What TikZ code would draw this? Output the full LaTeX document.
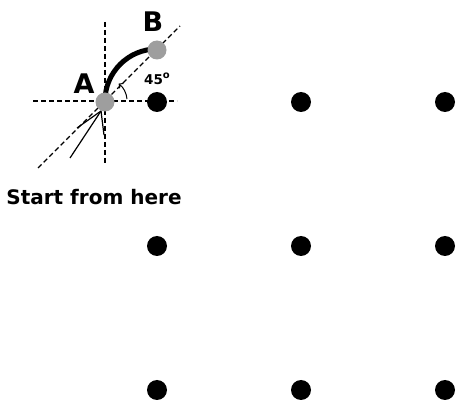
\documentclass[tikz,border=0pt]{standalone}
\usepackage{fontspec}
\setmainfont{DejaVu Sans}
\usetikzlibrary{arrows.meta}
\begin{document}
\begin{tikzpicture}[x=1pt,y=-1pt,
  dot/.style={circle,fill=black,inner sep=0pt,minimum size=20pt},
  graydot/.style={circle,fill=black!38,inner sep=0pt,minimum size=19pt},
  guide/.style={line width=1.2pt,dash pattern=on 5pt off 3pt},
  lbl/.style={font=\bfseries}]
\useasboundingbox (0,0) rectangle (459,412);
% grid of dots
\node[dot] (d11) at (157,102) {};
\node[dot] (d12) at (301,102) {};
\node[dot] (d13) at (445,102) {};
\node[dot] (d21) at (157,246) {};
\node[dot] (d22) at (301,246) {};
\node[dot] (d23) at (445,246) {};
\node[dot] (d31) at (157,390) {};
\node[dot] (d32) at (301,390) {};
\node[dot] (d33) at (445,390) {};
% guide lines
\coordinate (vt) at (105,22);
\coordinate (vb) at (105,163);
\coordinate (hl) at (33,101);
\coordinate (hr) at (177,101);
\coordinate (dl) at (38,168);
\coordinate (dr) at (180,26);
\draw[guide] (vt) -- (vb);
\draw[guide] (hl) -- (hr);
\draw[guide] (dl) -- (dr);
% incoming lines
\coordinate (in1) at (70,158);
\coordinate (in2) at (77,128);
\coordinate (in3) at (104,135);
\coordinate (tip) at (101,111);
\draw[line width=1.2pt] (in1) -- (tip);
\draw[line width=1.2pt] (in2) -- (tip);
\draw[line width=1.2pt] (in3) -- (tip);
% thick arc
\draw[line width=5pt] (105,101) arc[start angle=180,end angle=270,radius=52];
% gray points
\node[graydot] (A) at (105,102) {};
\node[graydot] (B) at (157,50) {};
% angle arrow
\draw[line width=1pt,-{Straight Barb[length=3pt,width=6pt]}] (127,99) arc[start angle=-5,end angle=-52,radius=22];
% labels
\node[lbl,font=\bfseries\fontsize{27}{27}\selectfont] (la) at (84,84) {A};
\node[lbl,font=\bfseries\fontsize{27}{27}\selectfont] (lb) at (153,22) {B};
\node[lbl,font=\bfseries\fontsize{13.5}{13.5}\selectfont] (l45) at (157,79) {45\raisebox{0.75ex}{\fontsize{10}{10}\selectfont o}};
\node[lbl,font=\bfseries\fontsize{20}{20}\selectfont] (start) at (94,197) {Start from here};
\end{tikzpicture}
\end{document}
